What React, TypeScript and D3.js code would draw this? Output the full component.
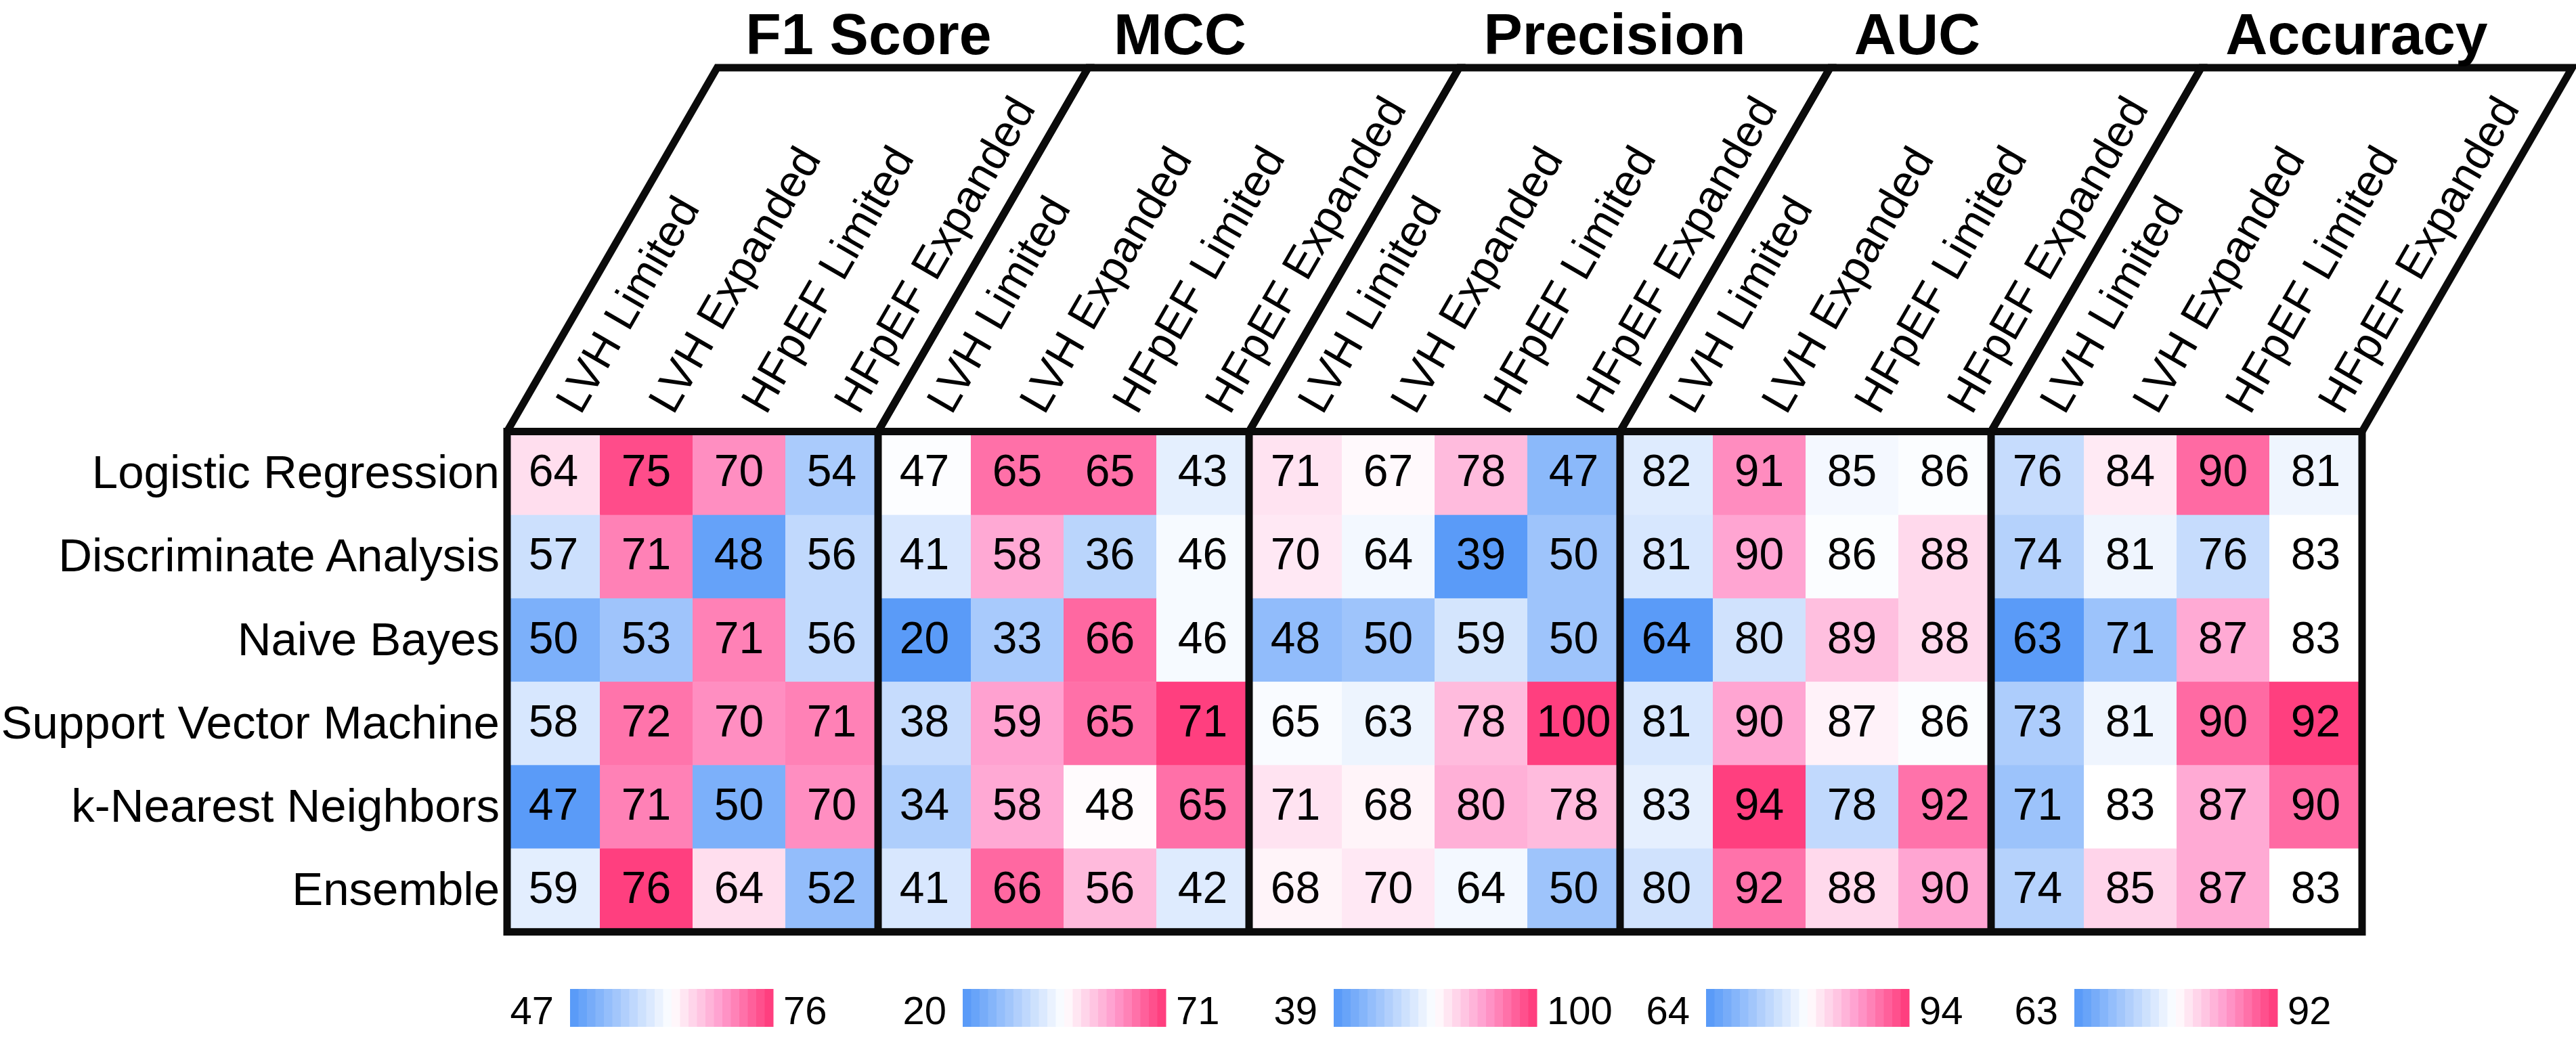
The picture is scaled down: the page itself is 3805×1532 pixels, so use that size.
import React from "react";
import * as d3 from "d3";

// ---------- DATA ----------
const models = [
  "Logistic Regression",
  "Discriminate Analysis",
  "Naive Bayes",
  "Support Vector Machine",
  "k-Nearest Neighbors",
  "Ensemble",
];
const datasets = ["LVH Limited", "LVH Expanded", "HFpEF Limited", "HFpEF Expanded"];
const metrics = ["F1 Score", "MCC", "Precision", "AUC", "Accuracy"];

// rows = models, columns = datasets
const f1Score = [
  [64, 75, 70, 54],
  [57, 71, 48, 56],
  [50, 53, 71, 56],
  [58, 72, 70, 71],
  [47, 71, 50, 70],
  [59, 76, 64, 52],
];
const mcc = [
  [47, 65, 65, 43],
  [41, 58, 36, 46],
  [20, 33, 66, 46],
  [38, 59, 65, 71],
  [34, 58, 48, 65],
  [41, 66, 56, 42],
];
const precision = [
  [71, 67, 78, 47],
  [70, 64, 39, 50],
  [48, 50, 59, 50],
  [65, 63, 78, 100],
  [71, 68, 80, 78],
  [68, 70, 64, 50],
];
const auc = [
  [82, 91, 85, 86],
  [81, 90, 86, 88],
  [64, 80, 89, 88],
  [81, 90, 87, 86],
  [83, 94, 78, 92],
  [80, 92, 88, 90],
];
const accuracy = [
  [76, 84, 90, 81],
  [74, 81, 76, 83],
  [63, 71, 87, 83],
  [73, 81, 90, 92],
  [71, 83, 87, 90],
  [74, 85, 87, 83],
];
const metricValues = [f1Score, mcc, precision, auc, accuracy];

// ---------- LAYOUT ----------
const W = 3805;
const H = 1532;
const gridLeft = 749;
const gridTop = 637.5;
const colW = 137;
const rowH = 123.2;
const headerTop = 100;
const stroke = 11;
const skew = Math.tan((30 * Math.PI) / 180);
const titleCenters = [1283, 1743, 2385, 2832, 3481];
const titleBaseline = 80;
const titleSize = 86;
const barStarts = [842, 1422, 1970, 2520, 3064];
const barY = 1461;
const barW = 300;
const barH = 56;
const barSteps = 24;
const font = "'Liberation Sans', Arial, Helvetica, sans-serif";
const ink = "#0b0b0b";

const blue = "#5A9BF8";
const pink = "#FF3F7F";
const interp = d3.piecewise(d3.interpolateRgb, [blue, "#ADCDFC", "#FFFFFF", "#FF9FCF", pink]);

export default function App() {
  const groupW = colW * datasets.length;
  const xGroup = d3
    .scaleBand<string>()
    .domain(metrics)
    .range([gridLeft, gridLeft + groupW * metrics.length]);
  const xCol = d3.scaleBand<string>().domain(datasets).range([0, groupW]);
  const y = d3
    .scaleBand<string>()
    .domain(models)
    .range([gridTop, gridTop + rowH * models.length]);
  const gridRight = gridLeft + groupW * metrics.length;
  const gridBottom = gridTop + rowH * models.length;
  const headH = gridTop - headerTop;
  const dx = headH * skew;

  const scales = metricValues.map((vals) => {
    const flat = vals.flat();
    const ext = d3.extent(flat) as [number, number];
    const med = d3.median(flat) as number;
    return d3.scaleDiverging(interp).domain([ext[0], med, ext[1]]);
  });

  return (
    <svg
      width={W}
      height={H}
      style={{ position: "absolute", left: 0, top: 0, background: "#fff" }}
      fontFamily={font}
    >
      <rect x={0} y={0} width={W} height={H} fill="#fff" />
      {/* cells */}
      {metrics.map((m, mi) =>
        models.map((mod, ri) =>
          datasets.map((ds, ci) => {
            const v = metricValues[mi][ri][ci];
            const x0 = (xGroup(m) as number) + (xCol(ds) as number);
            const y0 = y(mod) as number;
            return (
              <g key={`${m}-${ri}-${ci}`}>
                <rect
                  x={x0}
                  y={y0}
                  width={colW + 0.6}
                  height={rowH + 0.6}
                  fill={scales[mi](v)}
                />
                <text
                  x={x0 + colW / 2}
                  y={y0 + rowH / 2 + 19}
                  fontSize={66}
                  textAnchor="middle"
                  fill="#000"
                >
                  {v}
                </text>
              </g>
            );
          })
        )
      )}
      {/* row labels */}
      {models.map((mod) => (
        <text
          key={mod}
          x={738}
          y={(y(mod) as number) + rowH / 2 + 22}
          fontSize={69}
          textAnchor="end"
          fill="#000"
        >
          {mod}
        </text>
      ))}
      {/* grid borders */}
      <rect
        x={gridLeft}
        y={gridTop}
        width={gridRight - gridLeft}
        height={gridBottom - gridTop}
        fill="none"
        stroke={ink}
        strokeWidth={stroke}
      />
      {metrics.slice(1).map((m) => (
        <line
          key={m}
          x1={xGroup(m)}
          x2={xGroup(m)}
          y1={gridTop}
          y2={gridBottom}
          stroke={ink}
          strokeWidth={stroke}
        />
      ))}
      {/* header parallelograms */}
      {metrics.map((m) => {
        const x0 = xGroup(m) as number;
        const x1 = x0 + groupW;
        const p = d3.path();
        p.moveTo(x0, gridTop);
        p.lineTo(x0 + dx, headerTop);
        p.lineTo(x1 + dx, headerTop);
        p.lineTo(x1, gridTop);
        return (
          <path
            key={m}
            d={p.toString()}
            fill="none"
            stroke={ink}
            strokeWidth={stroke}
            strokeLinejoin="miter"
          />
        );
      })}
      {/* column labels */}
      {metrics.map((m) =>
        datasets.map((ds) => {
          const cx = (xGroup(m) as number) + (xCol(ds) as number) + colW / 2;
          return (
            <g key={`${m}-${ds}`} transform={`translate(${cx},${gridTop}) rotate(-60)`}>
              <text x={40} dy="0.35em" fontSize={66} fill="#000">
                {ds}
              </text>
            </g>
          );
        })
      )}
      {/* titles */}
      {metrics.map((m, i) => (
        <text
          key={m}
          x={titleCenters[i]}
          y={titleBaseline}
          fontSize={titleSize}
          fontWeight="bold"
          textAnchor="middle"
          fill="#000"
        >
          {m}
        </text>
      ))}
      {/* color bars */}
      {metrics.map((m, i) => {
        const sc = scales[i];
        const [lo, , hi] = sc.domain();
        const bx = barStarts[i];
        const xs = d3.scaleLinear().domain([0, barSteps]).range([bx, bx + barW]);
        return (
          <g key={m}>
            {d3.range(barSteps).map((k) => (
              <rect
                key={k}
                x={xs(k)}
                y={barY}
                width={xs(k + 1) - xs(k) + 0.5}
                height={barH}
                fill={interp(k / (barSteps - 1))}
              />
            ))}
            <text x={bx - 24} y={1513} fontSize={58} textAnchor="end" fill="#000">
              {lo}
            </text>
            <text x={bx + barW + 15} y={1513} fontSize={58} textAnchor="start" fill="#000">
              {hi}
            </text>
          </g>
        );
      })}
    </svg>
  );
}
